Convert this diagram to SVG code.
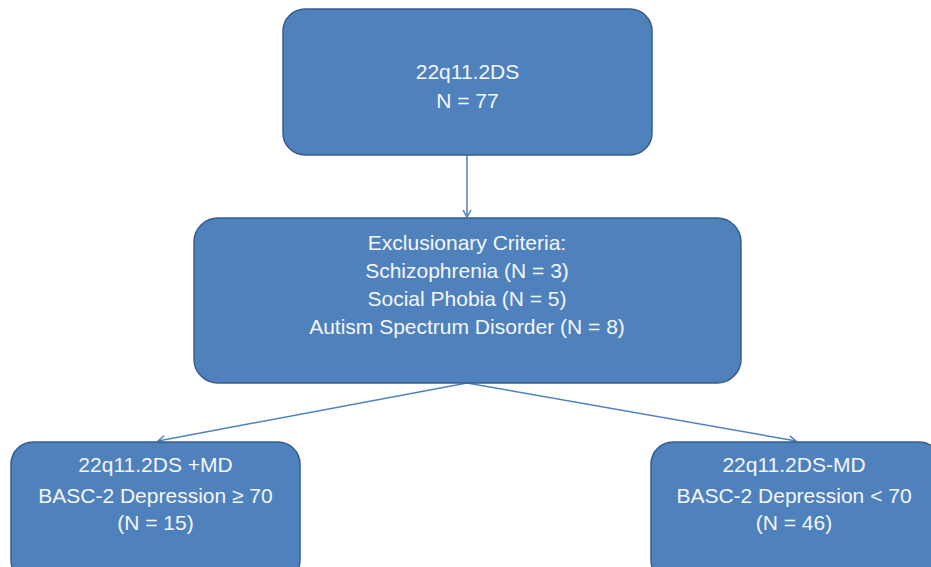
<svg xmlns="http://www.w3.org/2000/svg" width="931" height="567" viewBox="0 0 931 567">
<style>
.box{fill:#4F81BD;stroke:#385D8A;stroke-width:1.5}
.t{font-family:"Liberation Sans",Arial,sans-serif;font-size:21px;fill:#F4F7FC;text-anchor:middle}
.c{stroke:#4F81BD;stroke-width:1.5;fill:none}
</style>
<defs>
<marker id="a" markerWidth="12" markerHeight="12" refX="10" refY="5" orient="auto" markerUnits="userSpaceOnUse">
<polyline points="3,1 10,5 3,9" fill="none" stroke="#4F81BD" stroke-width="1.5"/>
</marker>
</defs>
<rect width="931" height="567" fill="#fff"/>
<g id="connectors">
<line class="c" x1="467" y1="155" x2="467" y2="217" marker-end="url(#a)"/>
<line class="c" x1="467" y1="383" x2="158" y2="441" marker-end="url(#a)"/>
<line class="c" x1="467" y1="383" x2="796" y2="441" marker-end="url(#a)"/>
</g>
<g id="n1">
<rect class="box" x="283" y="9" width="369" height="146" rx="22"/>
<text class="t" x="467.5" y="79">22q11.2DS</text>
<text class="t" x="467.5" y="108">N = 77</text>
</g>
<g id="n2">
<rect class="box" x="194" y="218" width="547" height="165" rx="24"/>
<text class="t" x="467" y="250">Exclusionary Criteria:</text>
<text class="t" x="467" y="278">Schizophrenia (N = 3)</text>
<text class="t" x="467" y="306">Social Phobia (N = 5)</text>
<text class="t" x="467" y="334">Autism Spectrum Disorder (N = 8)</text>
</g>
<g id="n3">
<rect class="box" x="11" y="442" width="289" height="140" rx="22"/>
<text class="t" x="155.5" y="472">22q11.2DS +MD</text>
<text class="t" x="155.5" y="503">BASC-2 Depression ≥ 70</text>
<text class="t" x="155.5" y="530">(N = 15)</text>
</g>
<g id="n4">
<rect class="box" x="651" y="442" width="290" height="140" rx="22"/>
<text class="t" x="794" y="472">22q11.2DS-MD</text>
<text class="t" x="794" y="503">BASC-2 Depression &lt; 70</text>
<text class="t" x="794" y="530">(N = 46)</text>
</g>
</svg>
